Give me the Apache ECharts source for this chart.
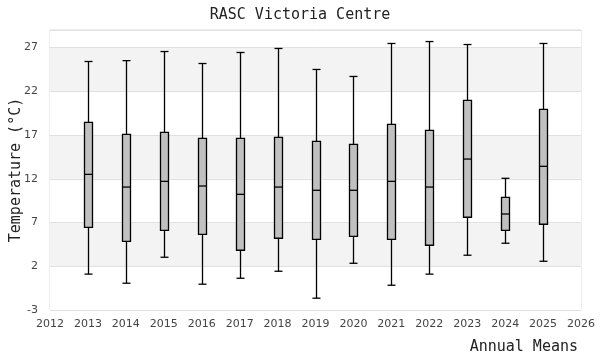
<!DOCTYPE html>
<html><head><meta charset="utf-8">
<script src="https://cdn.jsdelivr.net/npm/echarts@6/dist/echarts.min.js"></script>
<style>html,body{margin:0;padding:0;background:#fff}#c{width:600px;height:360px}</style>
</head><body><div id="c"></div>
<script>
var years = [2013,2014,2015,2016,2017,2018,2019,2020,2021,2022,2023,2024,2025];
var mins  = [1.1, 0.06, 3.03, -0.05, 0.63, 1.43, -1.65, 2.34, -0.17, 1.1, 3.26, 4.63, 2.57];
var q1s   = [6.45, 4.85, 6.1, 5.65, 3.83, 5.2, 5.08, 5.42, 5.08, 4.4, 7.6, 6.1, 6.8];
var meds  = [12.5, 11.05, 11.7, 11.17, 10.22, 11.05, 10.68, 10.68, 11.7, 11.05, 14.25, 7.97, 13.42];
var q3s   = [18.44, 17.07, 17.3, 16.61, 16.61, 16.73, 16.27, 15.93, 18.21, 17.53, 20.95, 9.88, 19.92];
var maxs  = [25.4, 25.5, 26.54, 25.17, 26.43, 26.89, 24.49, 23.69, 27.46, 27.68, 27.34, 12.05, 27.46];

var data = years.map(function(y,i){ return [y, mins[i], q1s[i], meds[i], q3s[i], maxs[i]]; });
var mono = 'DejaVu Sans Mono';
var chart = echarts.init(document.getElementById('c'), null, {renderer:'canvas'});
chart.setOption({
  animation:false,
  title:[
    {text:'RASC Victoria Centre', left:'center', top:3, textStyle:{fontFamily:mono, fontSize:15, fontWeight:'normal', color:'#222'}},
    {text:'Annual Means', right:17, bottom:0, textStyle:{fontFamily:mono, fontSize:15, fontWeight:'normal', color:'#222'}}
  ],
  grid:{left:50, right:19, top:30, bottom:50, show:true, borderColor:'#ddd', borderWidth:1, outerBoundsMode:'none', containLabel:false},
  xAxis:{type:'value', min:2012, max:2026, interval:1,
    axisLine:{show:false}, axisTick:{show:false}, splitLine:{show:false},
    axisLabel:{fontFamily:'DejaVu Sans', fontSize:11, color:'#444', margin:9, formatter:function(v){return String(v);}}},
  yAxis:{type:'value', min:-3, max:29, interval:5,
    name:'Temperature (°C)', nameLocation:'middle', nameGap:26, nameMoveOverlap:false,
    nameTextStyle:{fontFamily:mono, fontSize:15, color:'#222'},
    axisLine:{show:false}, axisTick:{show:false},
    axisLabel:{fontFamily:'DejaVu Sans', fontSize:11, color:'#444', margin:12, showMaxLabel:false},
    splitLine:{lineStyle:{color:'#e0e0e0'}},
    splitArea:{show:true, areaStyle:{color:['#ffffff','#f3f3f3']}}},
  series:[{
    type:'custom',
    data:data,
    encode:{x:0, y:[1,2,3,4,5]},
    renderItem:function(params, api){
      var x = api.value(0);
      var pMin = api.coord([x, api.value(1)]);
      var pQ1 = api.coord([x, api.value(2)]);
      var pMed = api.coord([x, api.value(3)]);
      var pQ3 = api.coord([x, api.value(4)]);
      var pMax = api.coord([x, api.value(5)]);
      var cx = Math.round(pMin[0]) + 0.5;
      var hw = 4, cw = 4;
      var ls = {stroke:'#000', lineWidth:1.3};
      return {type:'group', children:[
        {type:'line', shape:{x1:cx, y1:pMin[1], x2:cx, y2:pQ1[1]}, style:ls},
        {type:'line', shape:{x1:cx, y1:pQ3[1], x2:cx, y2:pMax[1]}, style:ls},
        {type:'line', shape:{x1:cx-cw, y1:pMin[1], x2:cx+cw, y2:pMin[1]}, style:ls},
        {type:'line', shape:{x1:cx-cw, y1:pMax[1], x2:cx+cw, y2:pMax[1]}, style:ls},
        {type:'rect', shape:{x:cx-hw, y:pQ3[1], width:hw*2, height:pQ1[1]-pQ3[1]}, style:{fill:'#c0c0c0', stroke:'#000', lineWidth:1.3}},
        {type:'line', shape:{x1:cx-hw, y1:pMed[1], x2:cx+hw, y2:pMed[1]}, style:ls}
      ]};
    }
  }]
});
</script></body></html>
